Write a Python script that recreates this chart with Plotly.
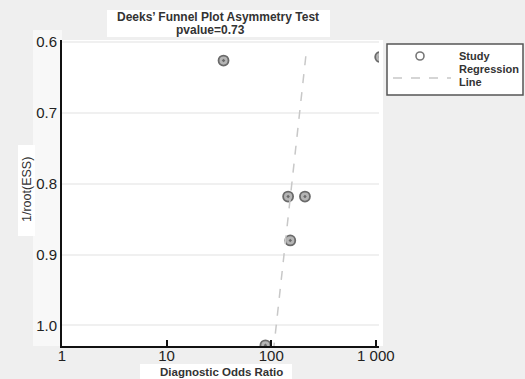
import plotly.graph_objects as go

# Study data (diagnostic odds ratio, 1/root(ESS))
study_dor = [35, 1100, 145, 210, 152, 88]
study_ess = [0.626, 0.621, 0.818, 0.818, 0.880, 1.028]

# Regression line end points
reg_dor = [214, 106]
reg_ess = [0.620, 1.030]

x_tick_vals = [1, 10, 100, 1000]
x_tick_text = ["1", "10", "100", "1 000"]
y_tick_vals = [0.6, 0.7, 0.8, 0.9, 1.0]
y_tick_text = ["0.6", "0.7", "0.8", "0.9", "1.0"]

FONT = "Liberation Sans, Arial, sans-serif"

# plot area in pixels: x 62..379, y 40..346
L, R, T, B = 62, 379, 40, 346
W, H = R - L, B - T


def px(x):
    return (x - L) / W


def py(y):
    return (B - y) / H


fig = go.Figure()
fig.add_trace(go.Scatter(
    x=study_dor, y=study_ess, mode="markers", name="Study",
    marker=dict(symbol="circle-dot", size=10, color="#b5b5b5",
                line=dict(color="#6a6a6a", width=1.8)),
    cliponaxis=True, showlegend=False,
))
fig.add_trace(go.Scatter(
    x=reg_dor, y=reg_ess, mode="lines", name="Regression Line",
    line=dict(color="#c8c8c8", width=1.5, dash="dash"), showlegend=False,
))

fig.update_layout(
    width=525, height=379,
    margin=dict(l=L, r=525 - R, t=T, b=379 - B),
    paper_bgcolor="#efefef", plot_bgcolor="white",
    font=dict(family=FONT, color="#222"),
    showlegend=False,
)
fig.update_xaxes(
    type="log", range=[0, 3.03],
    tickvals=x_tick_vals, ticktext=x_tick_text,
    showgrid=False, zeroline=False,
    showline=True, linecolor="#111", linewidth=2,
    ticks="inside", ticklen=6, tickwidth=2, tickcolor="#111",
    tickfont=dict(size=15, family=FONT, color="#222"),
    ticklabelstandoff=-5,
)
fig.update_yaxes(
    range=[1.029, 0.597],
    tickvals=y_tick_vals, ticktext=y_tick_text,
    showgrid=True, gridcolor="#f0f0f0", gridwidth=1.5, zeroline=False,
    showline=True, linecolor="#111", linewidth=2,
    ticks="", tickfont=dict(size=15, family=FONT, color="#222"),
)

shapes = []
# light panel behind y tick labels
shapes.append(dict(type="rect", xref="paper", yref="paper", layer="below",
                   x0=px(33), x1=px(62), y0=py(346), y1=py(30),
                   fillcolor="#f8f8f8", line=dict(width=0)))
# white area right of the plot
shapes.append(dict(type="rect", xref="paper", yref="paper", layer="below",
                   x0=px(379), x1=px(383), y0=py(346), y1=py(40),
                   fillcolor="white", line=dict(width=0)))
# title box
shapes.append(dict(type="rect", xref="paper", yref="paper",
                   x0=px(107), x1=px(330), y0=py(37), y1=py(10),
                   fillcolor="white", line=dict(width=0)))
# x-title box
shapes.append(dict(type="rect", xref="paper", yref="paper",
                   x0=px(140), x1=px(292), y0=py(379), y1=py(364),
                   fillcolor="white", line=dict(width=0)))
# y-title box
shapes.append(dict(type="rect", xref="paper", yref="paper",
                   x0=px(18), x1=px(35), y0=py(236), y1=py(145),
                   fillcolor="white", line=dict(width=0)))
# legend box
shapes.append(dict(type="rect", xref="paper", yref="paper",
                   x0=px(387), x1=px(523), y0=py(95), y1=py(44),
                   fillcolor="white", line=dict(color="#555", width=1.5)))
# legend circle symbol
shapes.append(dict(type="circle", xref="paper", yref="paper",
                   x0=px(416), x1=px(424), y0=py(60), y1=py(52),
                   fillcolor="white", line=dict(color="#777", width=1.6)))
# legend dashed line
shapes.append(dict(type="line", xref="paper", yref="paper",
                   x0=px(393), x1=px(451), y0=py(78), y1=py(78),
                   line=dict(color="#c8c8c8", width=1.5, dash="dash")))
fig.update_layout(shapes=shapes)

fig.add_annotation(
    text="<b>Deeks’ Funnel Plot Asymmetry Test</b>",
    xref="paper", yref="paper", x=px(218), y=py(16.5), yanchor="middle", xanchor="center",
    showarrow=False, font=dict(size=12, family=FONT, color="#333"),
)
fig.add_annotation(
    text="<b>pvalue=0.73</b>",
    xref="paper", yref="paper", x=px(210), y=py(30), yanchor="middle", xanchor="center",
    showarrow=False, font=dict(size=12, family=FONT, color="#333"),
)
fig.add_annotation(
    text="<b>Diagnostic Odds Ratio</b>",
    xref="paper", yref="paper", x=px(221), y=py(372), yanchor="middle", xanchor="center",
    showarrow=False, font=dict(size=11.5, family=FONT, color="#333"),
)
fig.add_annotation(
    text="1/root(ESS)", textangle=-90,
    xref="paper", yref="paper", x=px(27), y=py(190), xanchor="center", yanchor="middle",
    showarrow=False, font=dict(size=12.5, family=FONT, color="#333"),
)
for txt, yy in [("Study", 56), ("Regression", 69), ("Line", 82)]:
    fig.add_annotation(
        text="<b>" + txt + "</b>", xref="paper", yref="paper",
        x=px(457), y=py(yy), xanchor="left", yanchor="middle",
        showarrow=False, font=dict(size=11, family=FONT, color="#333"),
    )

fig.write_html("out.html", config={"displayModeBar": False},
               post_script="document.body.style.margin='0';")
